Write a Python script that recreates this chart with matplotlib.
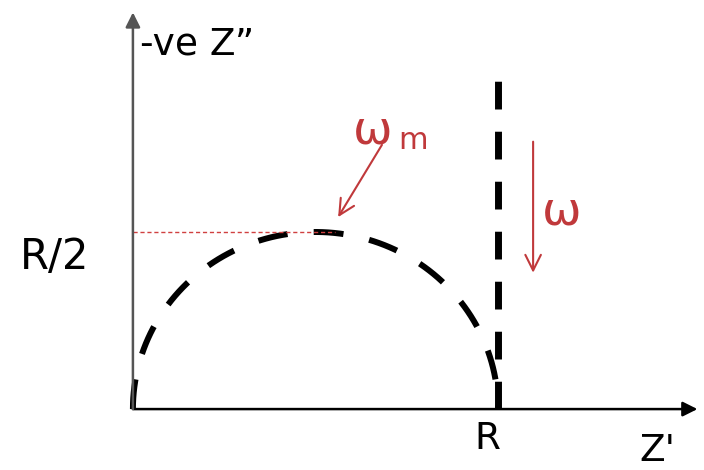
import numpy as np
import matplotlib.pyplot as plt

# Nyquist sketch of a parallel RC element, R normalised to 1
R = 1.0
theta = np.linspace(np.pi, 0, 200)
zre = R / 2 + (R / 2) * np.cos(theta)
zim = (R / 2) * np.sin(theta)

cap_top = 0.935          # height of the pure-capacitor line
peak_line_end = 0.553
wm_arrow = [(0.682, 0.746), (0.562, 0.542)]
w_arrow = [(1.096, 0.755), (1.096, 0.385)]

fig = plt.figure(figsize=(7.04, 4.70), dpi=100)
ax = fig.add_axes([0, 0, 1, 1])
ax.set_xlim(-0.364, 1.564)
ax.set_ylim(-0.172, 1.155)
ax.axis('off')

# axes as arrows
ax.annotate('', xy=(1.546, 0), xytext=(0, 0),
            arrowprops=dict(arrowstyle='-|>', color='black', lw=1.8,
                            mutation_scale=22, shrinkA=0, shrinkB=0))
ax.annotate('', xy=(0, 1.12), xytext=(0, 0),
            arrowprops=dict(arrowstyle='-|>', color='#555555', lw=1.8,
                            mutation_scale=22, shrinkA=0, shrinkB=0))

ax.plot(zre, zim, color='black', lw=4.3, dashes=(5.0, 4.4))
ax.plot([R, R], [0, cap_top], color='black', lw=5, dashes=(4.0, 3.2))
ax.plot([0, peak_line_end], [R / 2, R / 2], color='#d04040', lw=1, dashes=(3, 2))

red = '#c0393b'
ax.annotate('', xy=wm_arrow[1], xytext=wm_arrow[0],
            arrowprops=dict(arrowstyle='->', color=red, lw=1.5,
                            mutation_scale=28, shrinkA=0, shrinkB=0))
ax.annotate('', xy=w_arrow[1], xytext=w_arrow[0],
            arrowprops=dict(arrowstyle='->', color=red, lw=1.5,
                            mutation_scale=28, shrinkA=0, shrinkB=0))

ax.text(0.658, 0.785, '\u03c9', color=red, fontsize=34, ha='center', va='center')
ax.text(0.768, 0.757, 'm', color=red, fontsize=22, ha='center', va='center')
ax.text(1.175, 0.556, '\u03c9', color=red, fontsize=34, ha='center', va='center')

ax.text(-0.215, 0.43, 'R/2', fontsize=30, ha='center', va='center')
ax.text(R - 0.03, -0.085, 'R', fontsize=27, ha='center', va='center')
ax.text(1.436, -0.118, "Z'", fontsize=27, ha='center', va='center')
ax.text(0.02, 1.03, '-ve Z\u201d', fontsize=27, ha='left', va='center')

fig.savefig('out.png', dpi=100)
